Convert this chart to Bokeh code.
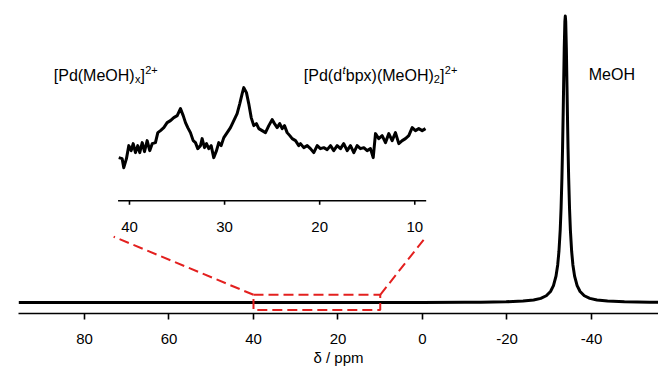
from bokeh.plotting import figure
from bokeh.models import Range1d, FixedTicker, Label
from bokeh.embed import file_html
from bokeh.resources import INLINE
from bokeh.core.properties import value

# ---------------- data ----------------
# main spectrum: chemical shift (ppm) and intensity (peak = 100)
main_ppm = [95.6, 60, 30, 10, 0, -10, -13.8, -19.8, -23.8, -26.3, -28.0, -29.3, -30.3,
            -31.0, -31.6, -32.0, -32.3, -32.6, -32.8, -33.0, -33.15, -33.3, -33.4, -33.55,
            -33.7, -33.8, -33.9, -34.05, -34.2, -34.3, -34.45, -34.6, -34.8, -35.0, -35.3,
            -35.6, -36.0, -36.6, -37.3, -38.3, -39.6, -41.3, -43.8, -47.8, -53.8, -55.9]
main_int = [0.0, 0.0, 0.01, 0.03, 0.04, 0.09, 0.12, 0.25, 0.49, 0.86, 1.44, 2.36, 3.85,
            5.9, 9.2, 13.1, 17.9, 25.4, 32.9, 43.4, 53.7, 66.2, 75.4, 88.7,
            98.0, 100.0, 98.0, 88.7, 75.4, 66.2, 53.7, 43.4, 32.9, 25.4, 17.9,
            13.1, 9.2, 5.9, 3.85, 2.36, 1.44, 0.86, 0.49, 0.25, 0.12, 0.1]

# inset (expanded 41 - 9 ppm region)
inset_ppm = [41.13, 40.77, 40.60, 40.32, 40.07, 39.82, 39.61, 39.37, 39.13, 38.92,
             38.66, 38.42, 38.14, 37.87, 37.61, 37.27, 37.02, 36.74, 36.39, 36.04,
             35.69, 35.34, 34.98, 34.64, 34.35, 34.11, 33.87, 33.59, 33.30, 33.06,
             32.82, 32.53, 32.36, 32.11, 31.90, 31.66, 31.41, 31.14, 30.85, 30.61,
             30.36, 30.08, 29.73, 29.38, 29.03, 28.68, 28.40, 28.15, 27.98, 27.70,
             27.46, 27.20, 26.93, 26.65, 26.40, 26.05, 25.70, 25.35, 25.00, 24.75,
             24.47, 24.20, 23.94, 23.70, 23.42, 23.14, 22.89, 22.54, 22.20, 22.02,
             21.67, 21.31, 20.97, 20.62, 20.26, 19.92, 19.57, 19.21, 18.86, 18.52,
             18.16, 17.81, 17.47, 17.11, 16.76, 16.41, 16.06, 15.71, 15.36, 15.01,
             14.66, 14.37, 14.13, 13.79, 13.43, 13.08, 12.73, 12.38, 12.03, 11.68,
             11.32, 10.98, 10.63, 10.27, 9.93, 9.58, 9.22, 8.87]
inset_int = [43, 42, 33, 42, 55, 50, 57, 48, 55, 48,
             58, 49, 60, 50, 57, 58, 68, 70, 73, 78,
             80, 83, 85, 92, 85, 78, 73, 68, 60, 58,
             52, 55, 62, 53, 57, 52, 55, 43, 50, 58,
             55, 63, 68, 73, 80, 87, 97, 107, 113, 108,
             97, 83, 75, 77, 72, 70, 68, 75, 81, 77,
             73, 77, 72, 75, 68, 65, 62, 60, 55, 57,
             53, 55, 52, 48, 55, 52, 53, 51, 55, 50,
             55, 52, 57, 50, 55, 48, 55, 52, 53, 50,
             52, 43, 67, 62, 65, 58, 67, 60, 68, 57,
             60, 62, 65, 73, 70, 72, 70, 72]

main_ticks = [80, 60, 40, 20, 0, -20, -40]
inset_ticks = [40, 30, 20, 10]
inset_axis_limits = [41.2, 8.8]
zoom_window = [40, 10]

FONT = "Liberation Sans"
RED = "#e3201f"

# ---------------- figure ----------------
p = figure(width=658, height=368, output_backend="svg", toolbar_location=None,
           x_range=Range1d(95.62, -55.86), y_range=Range1d(-3.84, 105.41),
           y_axis_location=None,
           min_border_left=18, min_border_right=0, min_border_top=0, min_border_bottom=55)
p.extra_x_ranges = {"ins": Range1d(51.67, -15.63)}
p.extra_y_ranges = {"ins": Range1d(-112.7, 200.0)}
p.grid.visible = False
p.outline_line_color = None
p.background_fill_color = "white"
p.border_fill_color = "white"

ax = p.xaxis[0]
ax.ticker = FixedTicker(ticks=main_ticks)
ax.major_label_overrides = {t: str(t) for t in main_ticks}
ax.minor_tick_line_color = None
ax.major_tick_in = 0
ax.major_tick_out = 6
ax.axis_line_width = 1.6
ax.major_tick_line_width = 1.6
ax.axis_line_color = "black"
ax.major_tick_line_color = "black"
ax.major_label_text_font = FONT
ax.major_label_text_font_size = "15px"
ax.major_label_text_color = "black"
ax.major_label_standoff = 14
ax.axis_label = "δ / ppm"
ax.axis_label_text_font = FONT
ax.axis_label_text_font_size = "15px"
ax.axis_label_text_font_style = "normal"
ax.axis_label_text_color = "black"
ax.axis_label_standoff = 2

# main spectrum
p.line(main_ppm, main_int, line_width=3, line_color="black", line_join="round")

# zoom box + connectors (dashed red)
bx = [zoom_window[0], zoom_window[1], zoom_window[1], zoom_window[0], zoom_window[0]]
by = [2.69, 2.69, -2.66, -2.66, 2.69]
p.line(bx, by, line_color=RED, line_width=2, line_dash="10 5")
p.line([zoom_window[0], 73.1], [2.69, 22.96], line_color=RED, line_width=2, line_dash="10 5")
p.line([zoom_window[1], -0.71], [2.69, 22.7], line_color=RED, line_width=2, line_dash="10 5")

# inset trace
p.line(inset_ppm, inset_int, x_range_name="ins", y_range_name="ins",
       line_width=3, line_color="black", line_join="round")
# inset axis
p.segment(x0=[inset_axis_limits[0]], y0=[0], x1=[inset_axis_limits[1]], y1=[0],
          x_range_name="ins", y_range_name="ins", line_color="black", line_width=1.6)
p.segment(x0=inset_ticks, y0=[0] * len(inset_ticks), x1=inset_ticks, y1=[-4] * len(inset_ticks),
          x_range_name="ins", y_range_name="ins", line_color="black", line_width=1.6)
p.text(x=inset_ticks, y=[-26.5] * len(inset_ticks), text=[str(t) for t in inset_ticks],
       x_range_name="ins", y_range_name="ins", text_align="center", text_baseline="middle",
       text_font=value(FONT), text_font_size="15px", text_color="black")


def add_pieces(x, y, pieces):
    for txt, dx, dy, size, style in pieces:
        p.add_layout(Label(x=x, y=y, x_offset=dx, y_offset=dy, text=txt,
                           text_font=FONT, text_font_size=size, text_font_style=style,
                           text_color="black", text_align="left", text_baseline="alphabetic"))


add_pieces(87.27, 79.21, [("[Pd(MeOH)", 0, 0, "16px", "normal"),
                          ("x", 81.2, -3, "11px", "normal"),
                          ("]", 86.8, 0, "16px", "normal"),
                          ("2+", 91.4, 6, "11px", "normal")])
add_pieces(28.09, 79.21, [("[Pd(d", 0, 0, "16px", "normal"),
                          ("t", 38.6, 6, "11px", "italic"),
                          ("bpx)(MeOH)", 42.0, 0, "16px", "normal"),
                          ("2", 130.0, -3, "11px", "normal"),
                          ("]", 136.3, 0, "16px", "normal"),
                          ("2+", 141.0, 6, "11px", "normal")])
add_pieces(-39.36, 79.56, [("MeOH", 0, 0, "16px", "normal")])

open("out.html", "w").write(file_html(p, INLINE))
